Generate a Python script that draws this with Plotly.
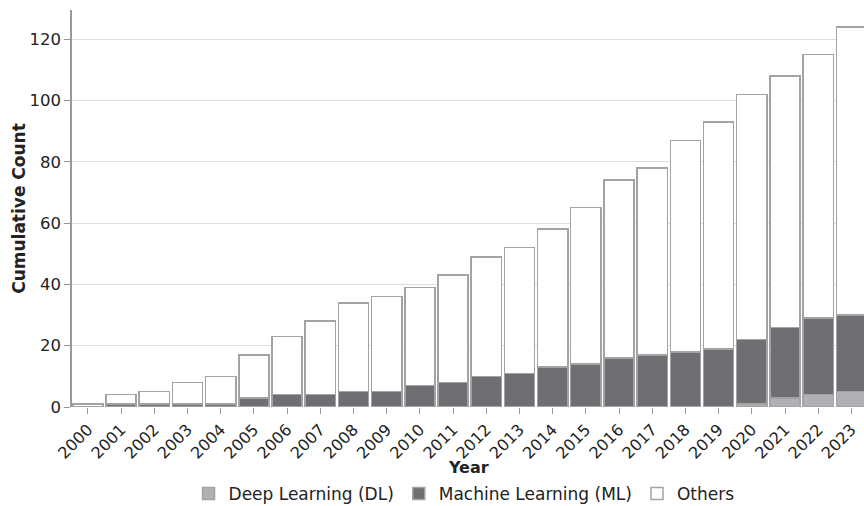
import plotly.graph_objects as go

years = [str(y) for y in range(2000, 2024)]
dl = [0]*20 + [1, 3, 4, 5]
ml = [0, 1, 1, 1, 1, 3, 4, 4, 5, 5, 7, 8, 10, 11, 13, 14, 16, 17, 18, 19, 21, 23, 25, 25]
others = [1, 3, 4, 7, 9, 14, 19, 24, 29, 31, 32, 35, 39, 41, 45, 51, 58, 61, 69, 74, 80, 82, 86, 94]

series = [
    ("Deep Learning (DL)", dl, "#b1b1b5"),
    ("Machine Learning (ML)", ml, "#6f6f73"),
    ("Others", others, "#ffffff"),
]

fig = go.Figure()
for name, vals, col in series:
    fig.add_trace(go.Bar(
        x=years, y=vals, name=name,
        marker=dict(color=col, line=dict(color="#a3a3a3", width=1.5)),
    ))

font = "DejaVu Sans"
fig.update_layout(
    template="none",
    barmode="stack",
    bargap=0.09,
    width=864, height=506,
    margin=dict(l=72, r=0, t=10, b=99, autoexpand=False),
    plot_bgcolor="white", paper_bgcolor="white",
    font=dict(family=font, size=17, color="#222"),
    legend=dict(orientation="h", x=0.495, xanchor="center",
                y=-0.219, yanchor="middle", font=dict(size=17),
                traceorder="normal", itemwidth=30),
    xaxis=dict(type="category", range=[-0.48, 23.38], tickangle=-45,
               ticks="outside", ticklen=6, tickcolor="#999",
               tickfont=dict(size=16),
               showgrid=False, showline=False, automargin=False),
    yaxis=dict(range=[0, 129.5], dtick=20, ticks="outside", ticklen=6,
               tickcolor="#999", showline=True, linecolor="#999", linewidth=1.5,
               tickfont=dict(size=16.5),
               showgrid=True, gridcolor="#dedede", gridwidth=1, zeroline=False,
               automargin=False,
               title=dict(text="<b>Cumulative Count</b>", standoff=0, font=dict(size=17))),
    annotations=[dict(text="<b>Year</b>", xref="paper", yref="paper",
                      x=0.5, y=-0.153, xanchor="center", yanchor="middle",
                      showarrow=False, font=dict(size=16))],
)
fig.write_html("out.html", config={"displayModeBar": False},
               post_script="document.body.style.margin='0';document.body.style.overflow='hidden';")
